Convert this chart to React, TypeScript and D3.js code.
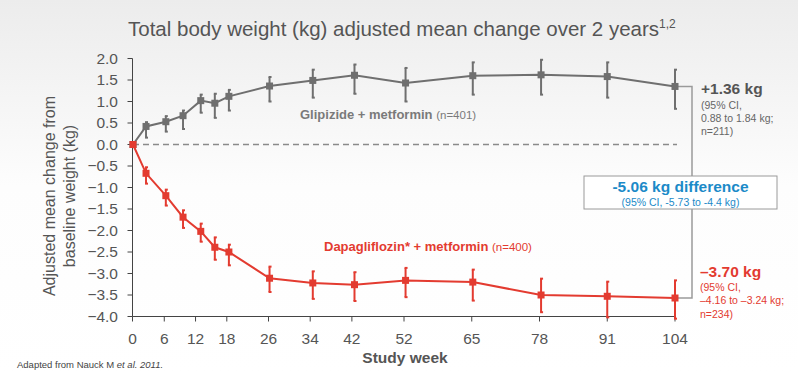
import React from "react";
import * as d3 from "d3";

const weeks = [0, 2.5, 6.3, 9.6, 13, 15.7, 18.4, 26.2, 34.5, 42.5, 52.3, 65.2, 78.3, 91, 104];
const glipMean = [0, 0.42, 0.53, 0.67, 1.02, 0.96, 1.12, 1.36, 1.49, 1.61, 1.43, 1.6, 1.62, 1.58, 1.35];
const glipUpper = [0, 0.52, 0.66, 0.79, 1.16, 1.18, 1.27, 1.57, 1.74, 1.86, 1.78, 1.91, 1.97, 1.91, 1.74];
const glipLower = [0, 0.16, 0.3, 0.36, 0.74, 0.62, 0.79, 1.0, 1.09, 1.18, 1.0, 1.16, 1.16, 1.09, 0.83];
const dapaMean = [0, -0.67, -1.19, -1.69, -2.02, -2.39, -2.5, -3.11, -3.22, -3.26, -3.16, -3.2, -3.5, -3.53, -3.57];
const dapaUpper = [0, -0.53, -1.05, -1.53, -1.84, -2.16, -2.33, -2.84, -2.95, -2.97, -2.87, -2.91, -3.12, -3.19, -3.16];
const dapaLower = [0, -0.91, -1.42, -1.94, -2.26, -2.68, -2.81, -3.43, -3.59, -3.64, -3.55, -3.63, -3.9, -4.02, -4.05];
const xTicks = [0, 6, 12, 18, 26, 34, 42, 52, 65, 78, 91, 104];
const yTicks = [2, 1.5, 1, 0.5, 0, -0.5, -1, -1.5, -2, -2.5, -3, -3.5, -4];

const FONT = "'Liberation Sans', Arial, sans-serif";
const GREY = "#6f6f6f";
const RED = "#e33b30";
const BLUE = "#1b8ac8";
const TXT = "#555555";

function Series({ means, upper, lower, color, x, y }) {
  const line = d3
    .line<number>()
    .x((_, i) => x(weeks[i]))
    .y((d) => y(d));
  return (
    <g>
      <path d={line(means) || ""} fill="none" stroke={color} strokeWidth={2} />
      {means.map((m, i) => {
        if (i === 0) return null;
        const cx = x(weeks[i]);
        const y1 = y(upper[i]);
        const y2 = y(lower[i]);
        return (
          <g key={i} stroke={color} strokeWidth={2}>
            <line x1={cx} x2={cx} y1={y1} y2={y2} />
            <line x1={cx - 1} x2={cx + 2} y1={y1} y2={y1} />
            <line x1={cx - 1} x2={cx + 2} y1={y2} y2={y2} />
          </g>
        );
      })}
      {means.map((m, i) => (
        <rect key={"p" + i} x={x(weeks[i]) - 3.5} y={y(m) - 3.5} width={7} height={7} fill={color} />
      ))}
    </g>
  );
}

export default function App() {
  const W = 798;
  const H = 373;
  const x = d3.scaleLinear().domain([0, 104]).range([133, 675]);
  const y = d3.scaleLinear().domain([-4, 2]).range([316.5, 58.5]);
  const x0 = 132.5;
  const lastG = glipMean[glipMean.length - 1];
  const lastD = dapaMean[dapaMean.length - 1];
  const connX = 692;
  return (
    <svg width={W} height={H} style={{ position: "absolute", left: 0, top: 0 }} fontFamily={FONT}>
      <defs>
        <linearGradient id="bg" x1="0" y1="0" x2="0" y2="1">
          <stop offset="0" stopColor="#ececec" />
          <stop offset="0.5" stopColor="#fdfdfd" />
          <stop offset="1" stopColor="#ffffff" />
        </linearGradient>
      </defs>
      <rect x={0} y={0} width={W} height={H} fill="url(#bg)" />

      <text x={128} y={36} fontSize={20.5} fill={TXT}>
        Total body weight (kg) adjusted mean change over 2 years
        <tspan fontSize={12} dy={-8}>1,2</tspan>
      </text>

      {/* y axis */}
      <line x1={x0} x2={x0} y1={y(2)} y2={y(-4)} stroke="#444" strokeWidth={1} />
      {yTicks.map((t) => (
        <g key={t}>
          <line x1={x0 - 5} x2={x0} y1={y(t)} y2={y(t)} stroke="#444" />
          <text x={118} y={y(t) + 5} fontSize={15.5} fill={TXT} textAnchor="end">
            {d3.format(".1f")(t)}
          </text>
        </g>
      ))}
      {/* x axis */}
      <line x1={x0} x2={x(104)} y1={y(-4)} y2={y(-4)} stroke="#444" />
      {xTicks.map((t) => (
        <g key={t}>
          <line x1={t === 0 ? x0 : x(t)} x2={t === 0 ? x0 : x(t)} y1={y(-4)} y2={y(-4) + 5} stroke="#444" />
          <text x={t === 0 ? x0 : x(t)} y={344} fontSize={15.5} fill={TXT} textAnchor="middle">
            {t}
          </text>
        </g>
      ))}

      <text transform="translate(55,196) rotate(-90)" fontSize={16} fill={TXT} textAnchor="middle">
        Adjusted mean change from
      </text>
      <text transform="translate(75,196) rotate(-90)" fontSize={16} fill={TXT} textAnchor="middle">
        baseline weight (kg)
      </text>
      <text x={405} y={363} fontSize={15.5} fontWeight="bold" fill={TXT} textAnchor="middle">
        Study week
      </text>
      <text x={17} y={368} fontSize={9.5} fill="#444">
        Adapted from Nauck M <tspan fontStyle="italic">et al. 2011.</tspan>
      </text>

      {/* zero reference line */}
      <line x1={x(0)} x2={x(104) + 2} y1={y(0)} y2={y(0)} stroke="#8a8a8a" strokeWidth={1.5} strokeDasharray="6,4" />

      {/* connector */}
      <polyline
        points={`${x(104)},${y(lastG)} ${connX},${y(lastG)} ${connX},${y(lastD)} ${x(104)},${y(lastD)}`}
        fill="none"
        stroke="#9a9a9a"
        strokeWidth={1.5}
      />

      <Series means={glipMean} upper={glipUpper} lower={glipLower} color={GREY} x={x} y={y} />
      <Series means={dapaMean} upper={dapaUpper} lower={dapaLower} color={RED} x={x} y={y} />

      <text x={300} y={118.5} fontSize={13} fontWeight="bold" fill="#7a7a7a">
        Glipizide + metformin <tspan fontWeight="normal" fontSize={11.5}>(n=401)</tspan>
      </text>
      <text x={324} y={251} fontSize={13} fontWeight="bold" fill={RED}>
        Dapagliflozin* + metformin <tspan fontWeight="normal" fontSize={11.5}>(n=400)</tspan>
      </text>

      {/* right annotations */}
      <text x={701} y={93.5} fontSize={15.5} fontWeight="bold" fill={TXT}>+1.36 kg</text>
      <text x={701} y={109} fontSize={10.5} fill="#666">(95% CI,</text>
      <text x={701} y={122} fontSize={10.5} fill="#666">0.88 to 1.84 kg;</text>
      <text x={701} y={135} fontSize={10.5} fill="#666">n=211)</text>

      <rect x={584} y={176} width={193} height={33} fill="#ffffff" stroke="#9a9a9a" strokeWidth={1} />
      <text x={680.5} y={192} fontSize={15.5} fontWeight="bold" fill={BLUE} textAnchor="middle">
        -5.06 kg difference
      </text>
      <text x={680.5} y={205.5} fontSize={10.5} fill={BLUE} textAnchor="middle">
        (95% CI, -5.73 to -4.4 kg)
      </text>

      <text x={700} y={277} fontSize={15.5} fontWeight="bold" fill={RED}>–3.70 kg</text>
      <text x={700} y={291} fontSize={10.5} fill={RED}>(95% CI,</text>
      <text x={700} y={304} fontSize={10.5} fill={RED}>–4.16 to –3.24 kg;</text>
      <text x={700} y={317.5} fontSize={10.5} fill={RED}>n=234)</text>
    </svg>
  );
}
